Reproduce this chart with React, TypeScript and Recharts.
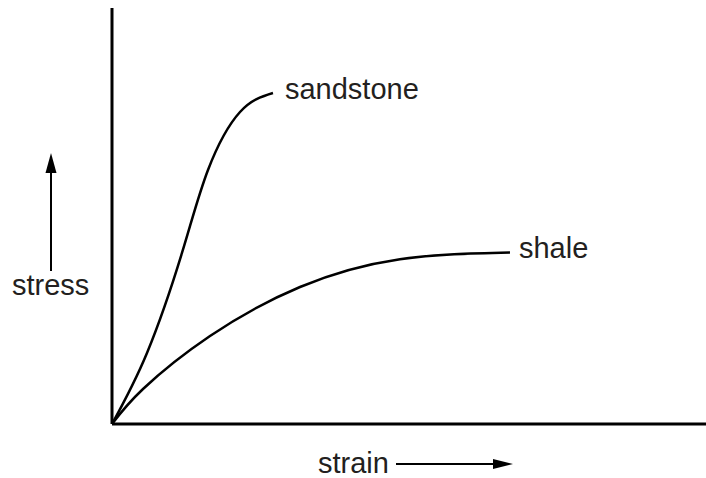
import { LineChart, Line, XAxis, YAxis } from 'recharts'

// strain/stress readings (arbitrary units, 0..10 on both axes)
const sandstoneStrain = [0, 0.589, 1.178, 1.616, 2.155, 2.71]
const sandstoneStress = [0, 1.707, 4.111, 6.106, 7.5, 7.957]
const shaleStrain = [0, 0.522, 1.65, 3.165, 4.848, 6.7]
const shaleStress = [0, 0.841, 2.115, 3.293, 3.96, 4.123]

const seriesNames = ['sandstone', 'shale']
const axisTitles = { x: 'strain', y: 'stress' }

const sandstone = sandstoneStrain.map((x, i) => ({ x, y: sandstoneStress[i] }))
const shale = shaleStrain.map((x, i) => ({ x, y: shaleStress[i] }))

const font = '"Liberation Sans", Arial, Helvetica, sans-serif'
const ink = '#231f20'

function endLabel(name: string, count: number, dx: number) {
  return (props: any) => {
    const { x, y, index } = props
    if (index !== count - 1) return null
    return (
      <text key={name} x={x + dx} y={y + 6} fontSize={29} fontFamily={font} fill={ink}>
        {name}
      </text>
    )
  }
}

// axis title + arrow, placed relative to the x axis box
function StrainTitle(props: any) {
  const vb = props.viewBox
  const baseY = vb.y + 40
  return (
    <g>
      <text x={vb.x + 206} y={baseY + 8.5} fontSize={29} fontFamily={font} fill={ink}>
        {axisTitles.x}
      </text>
      <line x1={vb.x + 284} y1={baseY} x2={vb.x + 383} y2={baseY} stroke="#000" strokeWidth={2} />
      <polygon
        points={`${vb.x + 381},${baseY - 5} ${vb.x + 401},${baseY} ${vb.x + 381},${baseY + 5}`}
        fill="#000"
      />
    </g>
  )
}

function StressTitle(props: any) {
  const vb = props.viewBox
  const ax = 51
  return (
    <g>
      <text x={12} y={295} fontSize={29} fontFamily={font} fill={ink}>
        {axisTitles.y}
      </text>
      <line x1={ax} y1={271} x2={ax} y2={170} stroke="#000" strokeWidth={2} />
      <polygon points={`${ax},${vb.y + 145} ${ax - 5.5},${vb.y + 165} ${ax + 5.5},${vb.y + 165}`} fill="#000" />
    </g>
  )
}

export default function App() {
  return (
    <div style={{ position: 'absolute', left: 0, top: 0, background: '#fff' }}>
      <LineChart width={706} height={478} margin={{ top: 8, right: 0, left: 111, bottom: 53 }}>
        <XAxis
          type="number"
          dataKey="x"
          domain={[0, 10]}
          height={1}
          tick={false}
          tickLine={false}
          axisLine={{ stroke: '#000', strokeWidth: 3 }}
          label={{ content: StrainTitle }}
        />
        <YAxis
          type="number"
          dataKey="y"
          domain={[0, 10]}
          width={1}
          tick={false}
          tickLine={false}
          axisLine={{ stroke: '#000', strokeWidth: 3 }}
          label={{ content: StressTitle }}
        />
        <Line
          data={sandstone}
          dataKey="y"
          name={seriesNames[0]}
          type="natural"
          stroke="#000"
          strokeWidth={2.5}
          dot={false}
          activeDot={false}
          isAnimationActive={false}
          label={endLabel(seriesNames[0], sandstone.length, 12)}
        />
        <Line
          data={shale}
          dataKey="y"
          name={seriesNames[1]}
          type="natural"
          stroke="#000"
          strokeWidth={2.5}
          dot={false}
          activeDot={false}
          isAnimationActive={false}
          label={endLabel(seriesNames[1], shale.length, 9)}
        />
      </LineChart>
    </div>
  )
}
